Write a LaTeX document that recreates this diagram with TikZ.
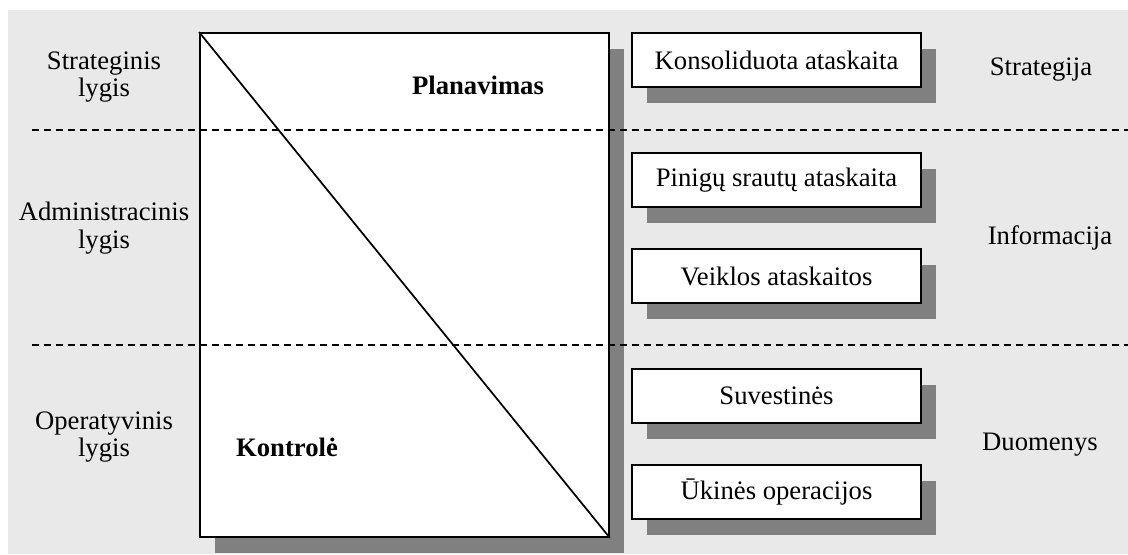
\documentclass[tikz,border=0pt]{standalone}
\usepackage{fontspec}
\setmainfont{Liberation Serif}
\usetikzlibrary{shadows}
\definecolor{panel}{HTML}{E9E9E9}
\definecolor{shade}{HTML}{808080}
\begin{document}
\begin{tikzpicture}[x=0.75pt,y=-0.75pt,
  every node/.style={font=\fontsize{20}{20.5}\selectfont},
  lvl/.style={align=center, inner sep=0pt},
  boxshadow/.style={general shadow={fill=shade, shadow xshift=11.25pt, shadow yshift=-12pt}},
  report/.style={draw, line width=1.4pt, fill=white, boxshadow,
    minimum width=216.75pt, minimum height=40.5pt, inner sep=0pt},
  pyramid/.style={draw, line width=1.4pt, fill=white, boxshadow,
    minimum width=306.75pt, minimum height=378pt, inner sep=0pt},
  divider/.style={dashed, line width=1.3pt, dash pattern=on 5.2pt off 3.8pt}]
\useasboundingbox (0,0) rectangle (1128,554);
\fill[panel] (8,10) rectangle (1128,554);

% central block split by the diagonal
\node[pyramid] (plan) at (404.5,285) {};
\draw[line width=1.3pt] (plan.north west) -- (plan.south east);
\node[font=\fontsize{20}{20.5}\selectfont\bfseries] (planavimas) at (478,85) {Planavimas};
\node[font=\fontsize{20}{20.5}\selectfont\bfseries] (kontrole) at (287,447) {Kontrolė};

% reports
\node[report] (r1) at (776.5,60)  {Konsoliduota ataskaita};
\node[report] (r2) at (776.5,180) {Pinigų srautų ataskaita};
\node[report] (r3) at (776.5,276) {Veiklos ataskaitos};
\node[report] (r4) at (776.5,396) {Suvestinės};
\node[report] (r5) at (776.5,492) {Ūkinės operacijos};

% management levels
\node[lvl] (l1) at (104,77)  {Strateginis\\lygis};
\node[lvl] (l2) at (104,228) {Administracinis\\lygis};
\node[lvl] (l3) at (104,437) {Operatyvinis\\lygis};

% kinds of information
\node[lvl] (k1) at (1041,70)  {Strategija};
\node[lvl] (k2) at (1050,238) {Informacija};
\node[lvl] (k3) at (1040,445) {Duomenys};

% level dividers
\coordinate (d1a) at (32,130);
\coordinate (d1b) at (1128,130);
\coordinate (d2a) at (32,345);
\coordinate (d2b) at (1128,345);
\draw[divider] (d1a) -- (d1b);
\draw[divider] (d2a) -- (d2b);
\end{tikzpicture}
\end{document}
